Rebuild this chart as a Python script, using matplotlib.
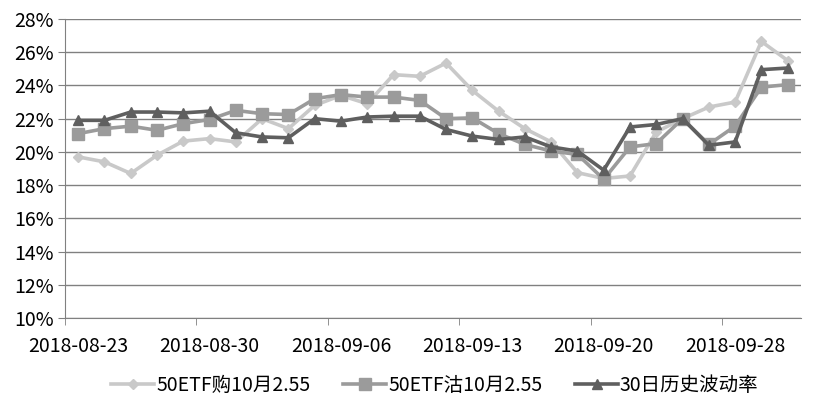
import matplotlib
matplotlib.use("Agg")
import matplotlib.pyplot as plt
from matplotlib.ticker import FixedLocator, FuncFormatter

plt.rcParams['font.family'] = ['Noto Sans CJK SC', 'DejaVu Sans']

# trading days
dates = ['2018-08-23', '2018-08-24', '2018-08-27', '2018-08-28', '2018-08-29', '2018-08-30',
         '2018-08-31', '2018-09-03', '2018-09-04', '2018-09-05', '2018-09-06', '2018-09-07',
         '2018-09-10', '2018-09-11', '2018-09-12', '2018-09-13', '2018-09-14', '2018-09-17',
         '2018-09-18', '2018-09-19', '2018-09-20', '2018-09-21', '2018-09-25', '2018-09-26',
         '2018-09-27', '2018-09-28', '2018-10-08', '2018-10-09']

call_iv = [19.7, 19.4, 18.7, 19.8, 20.65, 20.8, 20.6, 22.0, 21.4, 22.8, 23.4, 22.9,
           24.65, 24.55, 25.35, 23.7, 22.45, 21.4, 20.6, 18.75, 18.4, 18.55, 21.2, 22.0,
           22.7, 23.0, 26.65, 25.5]
put_iv = [21.1, 21.4, 21.55, 21.3, 21.7, 21.95, 22.5, 22.3, 22.25, 23.2, 23.45, 23.3,
          23.3, 23.1, 22.0, 22.05, 21.1, 20.45, 20.05, 19.85, 18.35, 20.3, 20.5, 22.0,
          20.45, 21.55, 23.9, 24.05]
hv30 = [21.9, 21.9, 22.4, 22.4, 22.35, 22.45, 21.15, 20.9, 20.85, 22.0, 21.85, 22.1,
        22.15, 22.15, 21.35, 20.95, 20.75, 20.9, 20.3, 20.05, 18.9, 21.5, 21.65, 22.0,
        20.4, 20.6, 24.95, 25.05]

labels = ['50ETF购10月2.55', '50ETF沽10月2.55', '30日历史波动率']

fig = plt.figure(figsize=(8.13, 4.09), dpi=100)
ax = fig.add_axes([0.080, 0.2225, 0.905, 0.731])

x = list(range(len(dates)))
ax.plot(x, call_iv, color='#c9c9c9', lw=2.6, marker='D', ms=5.5, label=labels[0], zorder=3)
ax.plot(x, put_iv, color='#9b9b9b', lw=2.6, marker='s', ms=8, label=labels[1], zorder=4)
ax.plot(x, hv30, color='#5f5f5f', lw=2.6, marker='^', ms=7.5, label=labels[2], zorder=5)

ax.set_ylim(10, 28)
ax.set_yticks(range(10, 29, 2))
ax.yaxis.set_major_formatter(FuncFormatter(lambda v, p: '%d%%' % v))
ax.grid(axis='y', color='#808080', lw=1)
ax.set_axisbelow(True)

ax.set_xlim(-0.5, len(dates) - 0.5)
# labels under every 5th category, tick marks between categories
ax.set_xticks(range(0, len(dates), 5))
ax.set_xticklabels([dates[i] for i in range(0, len(dates), 5)])
ax.xaxis.set_minor_locator(FixedLocator([i - 0.5 for i in range(0, len(dates), 5)]))
ax.tick_params(axis='x', which='major', length=0, pad=13, labelsize=14)
ax.tick_params(axis='x', which='minor', length=5, color='#808080')
ax.tick_params(axis='y', length=5, color='#808080', labelsize=14, pad=3)

for s in ['top', 'right']:
    ax.spines[s].set_visible(False)
for s in ['left', 'bottom']:
    ax.spines[s].set_color('#808080')

fig.legend(loc='lower center', bbox_to_anchor=(0.535, -0.01), ncol=3, frameon=False,
           fontsize=14, handlelength=2.2, columnspacing=1.7, handletextpad=0.1)

fig.savefig('out.png', dpi=100)
